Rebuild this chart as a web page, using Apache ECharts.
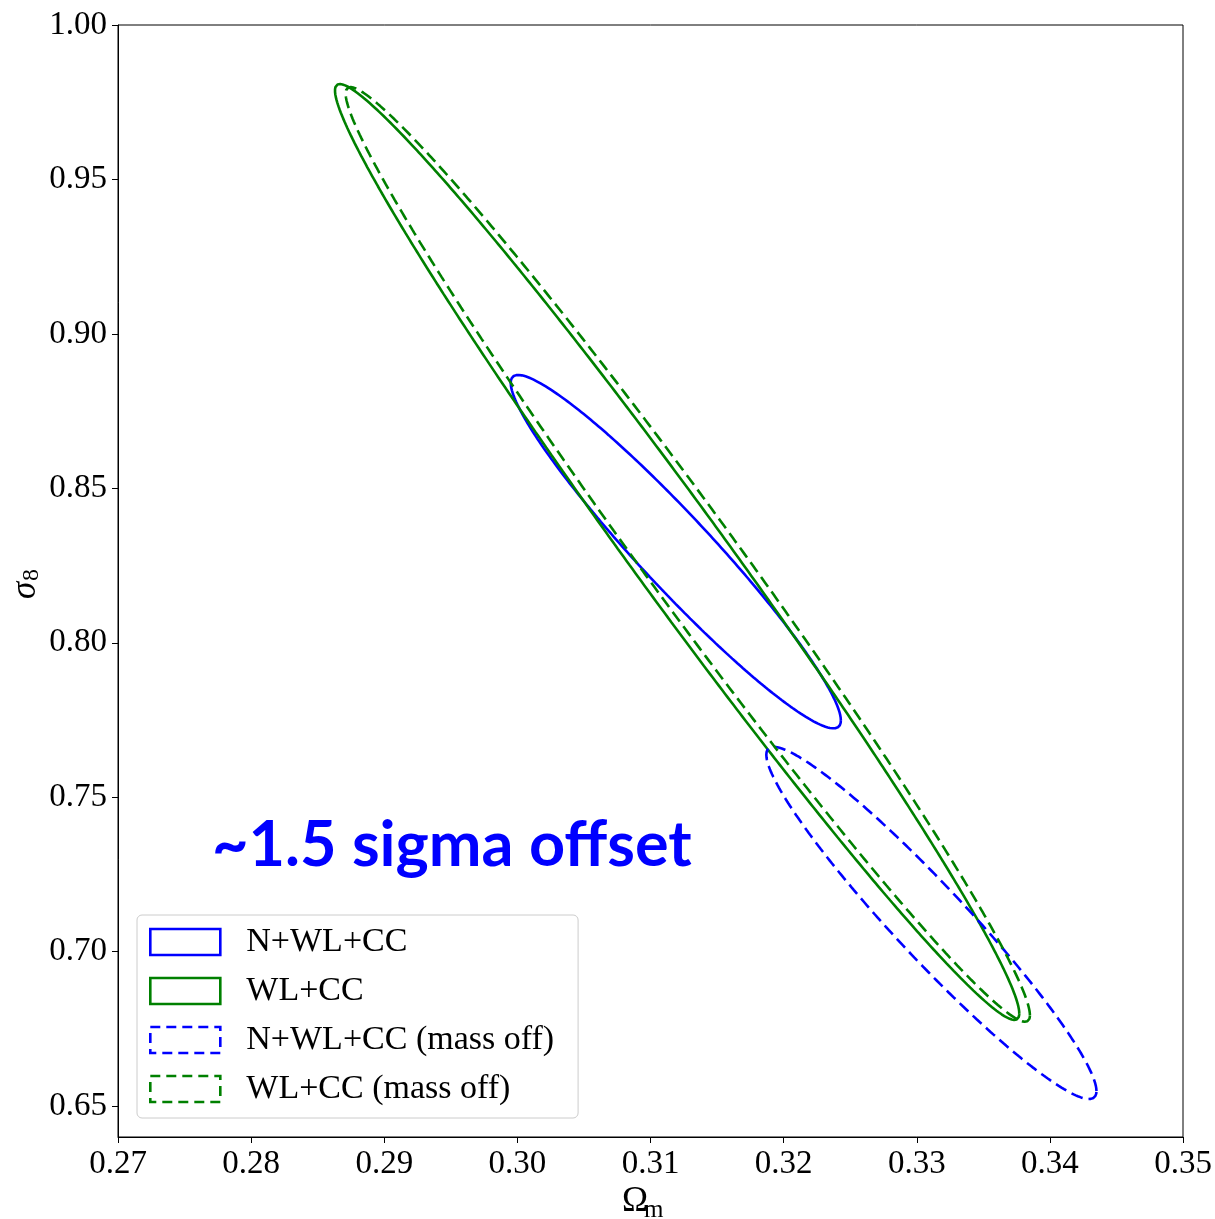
<!DOCTYPE html>
<html>
<head>
<meta charset="utf-8">
<script src="https://cdn.jsdelivr.net/npm/echarts@6/dist/echarts.min.js"></script>
<style>
  html, body { margin: 0; padding: 0; background: #fff; }
  #chart { width: 1215px; height: 1219px; }
</style>
</head>
<body>
<div id="chart"></div>
<script>
// Forecast contours in the (Omega_m, sigma_8) plane.
// Each contour is described by its centre, its half-extent along each axis
// and the correlation coefficient between the two parameters.
const seriesNames = ['N+WL+CC', 'WL+CC', 'N+WL+CC (mass off)', 'WL+CC (mass off)'];
const seriesColors = ['#0000ff', '#008000', '#0000ff', '#008000'];
const seriesDashed = [false, false, true, true];
const centerOmegaM = [0.3119, 0.3120, 0.3311, 0.3128];
const centerSigma8 = [0.8295, 0.8294, 0.7093, 0.8286];
const halfWidthOmegaM = [0.0124, 0.0257, 0.0124, 0.0257];
const halfWidthSigma8 = [0.0572, 0.1515, 0.0570, 0.1513];
const correlation = [-0.955, -0.986, -0.955, -0.986];

const xTicks = [0.27, 0.28, 0.29, 0.30, 0.31, 0.32, 0.33, 0.34, 0.35];
const yTicks = [0.65, 0.70, 0.75, 0.80, 0.85, 0.90, 0.95, 1.00];
const annotation = '~1.5 sigma offset';

// Trace the closed contour of a correlated 2-D Gaussian.
function contourPoints(i) {
  const pts = [];
  const r = correlation[i];
  const s = Math.sqrt(1 - r * r);
  for (let k = 0; k <= 720; k++) {
    const t = k * Math.PI / 360;
    const u = Math.cos(t), v = Math.sin(t);
    pts.push([
      centerOmegaM[i] + halfWidthOmegaM[i] * u,
      centerSigma8[i] + halfWidthSigma8[i] * (r * u + s * v)
    ]);
  }
  return pts;
}

const serif = 'Liberation Serif';
const dash = [12, 6];

const chart = echarts.init(document.getElementById('chart'), null, { renderer: 'canvas' });

const series = seriesNames.map((name, i) => ({
  name: name,
  type: 'line',
  data: contourPoints(i),
  showSymbol: false,
  symbol: 'none',
  smooth: false,
  silent: true,
  lineStyle: {
    color: seriesColors[i],
    width: 2.6,
    type: seriesDashed[i] ? dash : 'solid'
  },
  itemStyle: { color: seriesColors[i] }
}));

const legendData = seriesNames.map((name, i) => ({
  name: name,
  icon: 'rect',
  itemStyle: {
    color: 'rgba(255,255,255,0)',
    borderColor: seriesColors[i],
    borderWidth: 2.6,
    borderType: seriesDashed[i] ? [10, 6] : 'solid'
  }
}));

const option = {
  animation: false,
  backgroundColor: '#ffffff',
  grid: {
    left: 118, right: 32, top: 25, bottom: 82,
    show: true, borderColor: '#000', borderWidth: 1, backgroundColor: 'transparent'
  },
  xAxis: {
    type: 'value',
    min: 0.27, max: 0.35,
    axisLine: { show: true, onZero: false, lineStyle: { color: '#000', width: 1 } },
    axisTick: { show: true, inside: false, length: 6, lineStyle: { color: '#000', width: 1 },
                customValues: xTicks },
    axisLabel: { color: '#000', fontFamily: serif, fontSize: 33, margin: 11,
                 customValues: xTicks, formatter: v => v.toFixed(2) },
    splitLine: { show: false }
  },
  yAxis: {
    type: 'value',
    min: 0.64, max: 1.00,
    axisLine: { show: true, onZero: false, lineStyle: { color: '#000', width: 1 } },
    axisTick: { show: true, inside: false, length: 6, lineStyle: { color: '#000', width: 1 },
                customValues: yTicks },
    axisLabel: { color: '#000', fontFamily: serif, fontSize: 33, margin: 11,
                 customValues: yTicks, formatter: v => v.toFixed(2) },
    splitLine: { show: false }
  },
  legend: {
    orient: 'vertical',
    left: 137, top: 915,
    align: 'left',
    padding: [10, 24, 12, 12],
    itemWidth: 70, itemHeight: 26, itemGap: 15,
    backgroundColor: 'rgba(255,255,255,0.8)',
    borderColor: '#cccccc', borderWidth: 1, borderRadius: 5,
    textStyle: { color: '#000', fontFamily: serif, fontSize: 34, padding: [0, 0, 0, 21] },
    data: legendData,
    selectedMode: false
  },
  graphic: [
    {
      type: 'text', left: 212, top: 814, z: 100,
      style: { text: annotation, fill: '#0000ff', font: 'bold 63px Lato' }
    },
    {
      type: 'group', x: 0, y: 0, z: 100,
      children: [
        { type: 'text', x: 622, y: 1219,
          style: { text: 'Ω', fill: '#000', font: '35px "Liberation Serif"', verticalAlign: 'bottom' } },
        { type: 'text', x: 644, y: 1223,
          style: { text: 'm', fill: '#000', font: '25px "Liberation Serif"', verticalAlign: 'bottom' } }
      ]
    },
    {
      type: 'group', x: 26, y: 583, rotation: Math.PI / 2, z: 100,
      children: [
        { type: 'text', x: -16, y: 0,
          style: { text: 'σ', fill: '#000', font: 'italic 35px "Liberation Serif"', verticalAlign: 'middle' } },
        { type: 'text', x: 2, y: 6,
          style: { text: '8', fill: '#000', font: '24px "Liberation Serif"', verticalAlign: 'middle' } }
      ]
    }
  ],
  series: series
};

chart.setOption(option);
</script>
</body>
</html>
